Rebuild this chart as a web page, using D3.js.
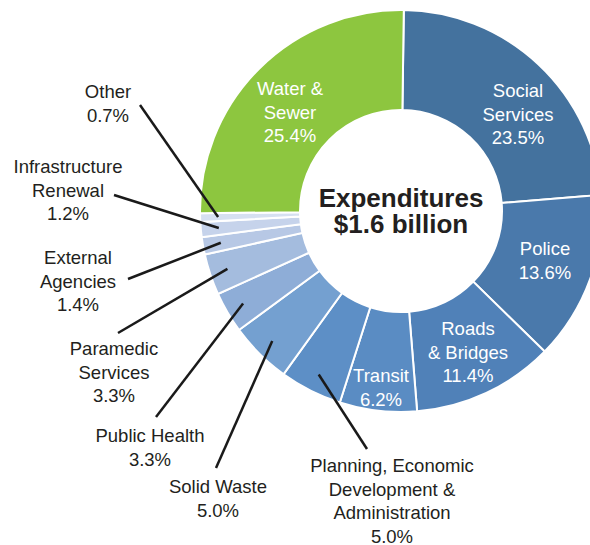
<!DOCTYPE html>
<html>
<head>
<meta charset="utf-8">
<script src="https://cdn.jsdelivr.net/npm/d3@7.9.0/dist/d3.min.js"></script>
<style>
  body { margin: 0; background: #fff; }
  svg { display: block; font-family: "Liberation Sans", Arial, sans-serif; }
</style>
</head>
<body>
<svg width="590" height="545"></svg>
<script>
// data, clockwise from 12 o'clock
const categories = ['Social Services', 'Police', 'Roads & Bridges', 'Transit',
  'Planning, Economic Development & Administration', 'Solid Waste', 'Public Health',
  'Paramedic Services', 'External Agencies', 'Infrastructure Renewal', 'Other', 'Water & Sewer'];
const shares = [23.5, 13.6, 11.4, 6.2, 5.0, 5.0, 3.3, 3.3, 1.4, 1.2, 0.7, 25.4];
const labelLines = [
  ['Social', 'Services'], ['Police'], ['Roads', '& Bridges'], ['Transit'],
  ['Planning, Economic', 'Development &', 'Administration'], ['Solid Waste'], ['Public Health'],
  ['Paramedic', 'Services'], ['External', 'Agencies'], ['Infrastructure', 'Renewal'], ['Other'], ['Water &', 'Sewer']
];
const colors = ['#44729e', '#4a79ab', '#5081b8', '#5a8cc3', '#5d8fc6', '#74a0d0', '#8eadd7',
  '#a4bcde', '#b7c8e5', '#c6d3eb', '#d6e0f1', '#8dc63f'];
const centerTitle = ['Expenditures', '$1.6 billion'];

// layout
const cx = 401, cy = 211, R = 201, r0 = 101;
const inside = {  // text block anchor (x, first baseline) for labels drawn on the ring
  'Social Services': [518, 97], 'Police': [545, 255], 'Roads & Bridges': [468, 335],
  'Transit': [381, 382], 'Water & Sewer': [290, 95]
};
const outside = {  // text anchor (x, first baseline) and leader start point
  'Other': { t: [108, 98], p: [140, 105] },
  'Infrastructure Renewal': { t: [68, 173], p: [114, 195] },
  'External Agencies': { t: [78, 264], p: [128, 279] },
  'Paramedic Services': { t: [114, 355], p: [118, 333] },
  'Public Health': { t: [150, 442], p: [156, 417] },
  'Solid Waste': { t: [218, 493], p: [216, 468] },
  'Planning, Economic Development & Administration': { t: [392, 472], p: [367, 449] }
};
const lineH = 23.5;

const svg = d3.select('svg');
const g = svg.append('g').attr('transform', `translate(${cx},${cy})`);

const data = categories.map((c, i) => ({ name: c, value: shares[i], lines: labelLines[i], color: colors[i] }));
const off = 0.8 * Math.PI / 180;
const pie = d3.pie().sort(null).value(d => d.value).startAngle(off).endAngle(2 * Math.PI + off);
const arcs = pie(data);
const arc = d3.arc().innerRadius(r0).outerRadius(R);
const leaderArc = d3.arc().innerRadius(183).outerRadius(183);

g.selectAll('path.slice')
  .data(arcs)
  .join('path')
  .attr('class', 'slice')
  .attr('d', arc)
  .attr('fill', d => d.data.color)
  .attr('stroke', '#fff')
  .attr('stroke-width', 2);

// leader lines
arcs.filter(d => outside[d.data.name]).forEach(d => {
  const [lx, ly] = leaderArc.centroid(d);
  const o = outside[d.data.name];
  svg.append('line')
    .attr('x1', o.p[0]).attr('y1', o.p[1])
    .attr('x2', cx + lx).attr('y2', cy + ly)
    .attr('stroke', '#1a1a1a')
    .attr('stroke-width', 2.5);
});

// labels
arcs.forEach(d => {
  const name = d.data.name;
  const lines = d.data.lines.concat([d.data.value.toFixed(1) + '%']);
  let pos, fill;
  if (inside[name]) { pos = inside[name]; fill = '#fff'; }
  else { pos = outside[name].t; fill = '#231f20'; }
  const t = svg.append('text')
    .attr('text-anchor', 'middle')
    .attr('font-size', 18.5)
    .attr('fill', fill);
  lines.forEach((s, i) => {
    t.append('tspan').attr('x', pos[0]).attr('y', pos[1] + i * lineH).text(s);
  });
});

// centre title, one text per line
centerTitle.forEach((s, i) => {
  svg.append('text')
    .attr('text-anchor', 'middle')
    .attr('font-size', 26)
    .attr('font-weight', 'bold')
    .attr('fill', '#231f20')
    .attr('x', cx)
    .attr('y', 207 + i * 26)
    .text(s);
});
</script>
</body>
</html>
